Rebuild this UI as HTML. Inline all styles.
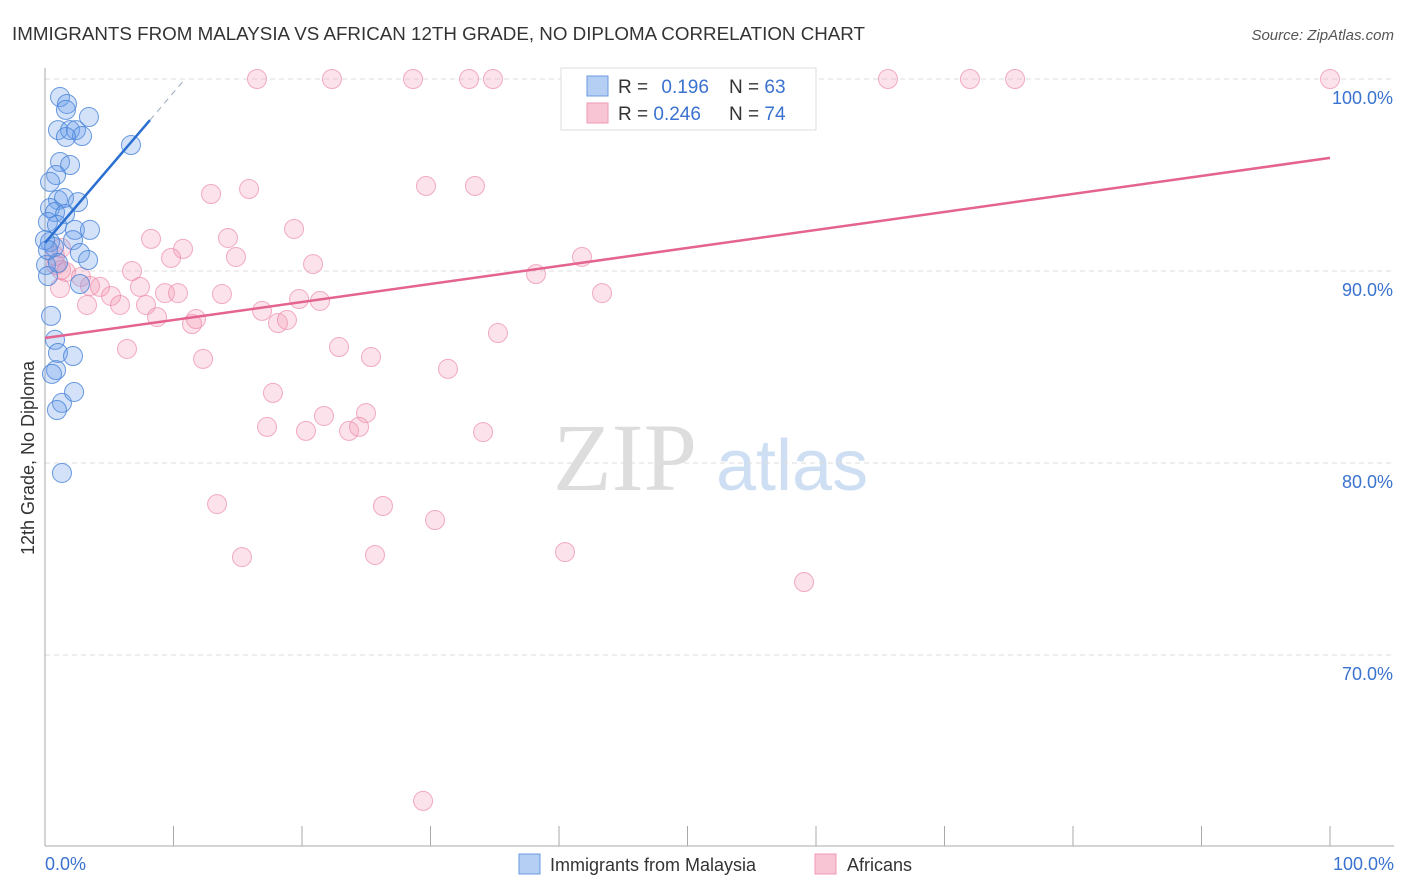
<!DOCTYPE html>
<html><head><meta charset="utf-8"><style>
body{margin:0;background:#fff;font-family:"Liberation Sans",sans-serif;}
svg{display:block}
</style></head><body>
<svg id="chart" width="1406" height="892">
<text x="12" y="40" font-size="18" fill="#333" textLength="853" lengthAdjust="spacingAndGlyphs">IMMIGRANTS FROM MALAYSIA VS AFRICAN 12TH GRADE, NO DIPLOMA CORRELATION CHART</text>
<text x="1394" y="40" font-size="15" fill="#555" font-style="italic" text-anchor="end">Source: ZipAtlas.com</text>
<text x="34" y="458" font-size="18" fill="#333" text-anchor="middle" transform="rotate(-90 34 458)">12th Grade, No Diploma</text>
<g>
<text x="553" y="490" font-family="Liberation Serif,serif" font-size="96" fill="#ddd">ZIP</text>
<text x="716" y="490" font-size="72" fill="#cfdff3">atlas</text>
</g>
<g id="grid"></g>
<g id="axes"></g>
<g id="pts"></g>
<g id="trend"></g>
<g>
<rect x="561" y="68" width="255" height="62" fill="#fff" stroke="#ddd"/>
<rect x="587" y="76" width="21" height="20" fill="#b5cef3" stroke="#6b9be0"/>
<rect x="587" y="103" width="21" height="20" fill="#f8c5d4" stroke="#ef9ab3"/>
<text x="618" y="93" font-size="19" fill="#333">R = <tspan fill="#3a72d0" dx="8">0.196</tspan></text>
<text x="729" y="93" font-size="19" fill="#333">N = <tspan fill="#3a72d0">63</tspan></text>
<text x="618" y="120" font-size="19" fill="#333">R = <tspan fill="#3a72d0">0.246</tspan></text>
<text x="729" y="120" font-size="19" fill="#333">N = <tspan fill="#3a72d0">74</tspan></text>
</g>
<g>
<rect x="519" y="854" width="21" height="20" fill="#b5cef3" stroke="#6b9be0"/>
<text x="550" y="871" font-size="18" fill="#333">Immigrants from Malaysia</text>
<rect x="815" y="854" width="21" height="20" fill="#f8c5d4" stroke="#ef9ab3"/>
<text x="847" y="871" font-size="18" fill="#333">Africans</text>
</g>
</svg>
<script>
const yTicks=[100,90,80,70];
const yTickLabels=["100.0%","90.0%","80.0%","70.0%"];
const xTickVals=[0,10,20,30,40,50,60,70,80,90,100];
const xEndLabels=["0.0%","100.0%"];
const blueX=[1.17,1.71,1.63,3.42,1.01,1.95,2.41,2.88,1.63,6.69,1.17,1.95,0.86,1.01,1.48,0.39,0.78,1.56,2.57,0.23,0.93,2.33,3.5,0.39,2.18,0.7,2.72,3.35,0.08,1.01,0.23,2.72,0.47,0.78,1.01,2.18,0.86,0.54,1.32,0.93,2.26,1.32,0.39,0,0.23];
const blueY=[99.06,98.7,98.39,98.02,97.34,97.34,97.34,97.03,96.98,96.56,95.68,95.52,95.0,93.7,93.8,93.28,93.07,92.97,93.59,92.55,92.4,92.14,92.14,91.51,91.61,91.25,90.94,90.57,90.31,90.42,89.74,89.32,87.66,86.41,85.73,85.57,84.84,84.64,83.13,82.76,83.7,79.48,94.64,91.61,91.09];
const pinkX=[16.5,22.33,28.64,33.0,34.86,42.33,52.22,65.6,71.98,75.49,100,55.49,12.92,15.88,29.65,33.46,8.25,10.74,14.24,19.38,9.81,14.86,20.86,6.77,0.86,1.63,2.8,7.39,4.28,5.14,3.27,5.84,7.86,9.34,10.35,13.77,19.77,21.4,16.89,8.72,11.44,11.75,18.13,18.83,38.21,41.79,43.35,35.25,6.38,12.3,22.88,25.37,31.36,17.74,21.71,24.98,17.28,20.31,23.66,24.44,34.09,13.39,26.3,30.35,15.33,25.68,40.47,59.07,29.42,1.17,3.5,1.25,0.78,1.25];
const pinkY=[100,100,100,100,100,100,100,100,100,100,100,99.17,94.01,94.27,94.43,94.43,91.67,91.15,91.72,92.19,90.68,90.73,90.36,90.0,90.31,89.95,89.69,89.17,89.17,88.7,88.23,88.23,88.23,88.85,88.85,88.8,88.54,88.44,87.92,87.6,87.24,87.5,87.29,87.45,89.84,90.73,88.85,86.77,85.94,85.42,86.04,85.52,84.9,83.65,82.45,82.6,81.88,81.67,81.67,81.88,81.61,77.86,77.76,77.03,75.1,75.21,75.36,73.8,62.4,89.11,89.22,90.05,90.78,91.2];
const blueTrend=[[0,91.46],[8.17,97.86]];
const blueDash=[[8.17,97.86],[10.9,100]];
const pinkTrend=[[0,86.51],[100,95.89]];
const NS="http://www.w3.org/2000/svg";
const sx=v=>45+v*12.85, sy=v=>79+(100-v)*19.2;
function mk(tag,attrs,parent){const e=document.createElementNS(NS,tag);for(const k in attrs)e.setAttribute(k,attrs[k]);document.getElementById(parent).appendChild(e);return e;}
yTicks.forEach((t,i)=>{
 const l=mk('line',{x1:45,x2:1394,y1:sy(t),y2:sy(t),stroke:'#ddd','stroke-dasharray':'5,4'},'grid');
 
 
 const tx=mk('text',{x:1393,y:sy(t)+25,'font-size':18,fill:'#3a72d0','text-anchor':'end'},'grid');
 tx.textContent=yTickLabels[i];
 
 
});
const ax=mk('line',{x1:45,x2:45,y1:68,y2:846,stroke:'#aaa'},'axes');


const bx=mk('line',{x1:45,x2:1394,y1:846,y2:846,stroke:'#aaa'},'axes');


xTickVals.forEach(v=>{
 const t=mk('line',{x1:sx(v),x2:sx(v),y1:826,y2:846,stroke:'#aaa'},'axes');
 
 
});
[[0,'start',45],[100,'end',1394]].forEach((d,i)=>{
 const t=mk('text',{x:d[2],y:870,'font-size':18,fill:'#3a72d0','text-anchor':d[1]},'axes');
 t.textContent=xEndLabels[i];
 
 
});
pinkX.forEach((x,i)=>{
 const c=mk('circle',{cx:sx(x),cy:sy(pinkY[i]),r:9.5,fill:'rgba(243,150,180,0.28)',stroke:'rgba(236,140,170,0.7)','stroke-width':1},'pts');
 
 
});
blueX.forEach((x,i)=>{
 const c=mk('circle',{cx:sx(x),cy:sy(blueY[i]),r:9.5,fill:'rgba(110,160,235,0.3)',stroke:'rgba(70,130,215,0.8)','stroke-width':1},'pts');
 
 
});
const pl=mk('line',{x1:sx(pinkTrend[0][0]),y1:sy(pinkTrend[0][1]),x2:sx(pinkTrend[1][0]),y2:sy(pinkTrend[1][1]),stroke:'#e4638f','stroke-width':2.5},'trend');


const bl=mk('line',{x1:sx(blueTrend[0][0]),y1:sy(blueTrend[0][1]),x2:sx(blueTrend[1][0]),y2:sy(blueTrend[1][1]),stroke:'#2a6fd0','stroke-width':2.5},'trend');


const bd=mk('line',{x1:sx(blueDash[0][0]),y1:sy(blueDash[0][1]),x2:sx(blueDash[1][0]),y2:sy(blueDash[1][1]),stroke:'#9ab','stroke-width':1,'stroke-dasharray':'6,5'},'trend');


</script>
</body></html>
